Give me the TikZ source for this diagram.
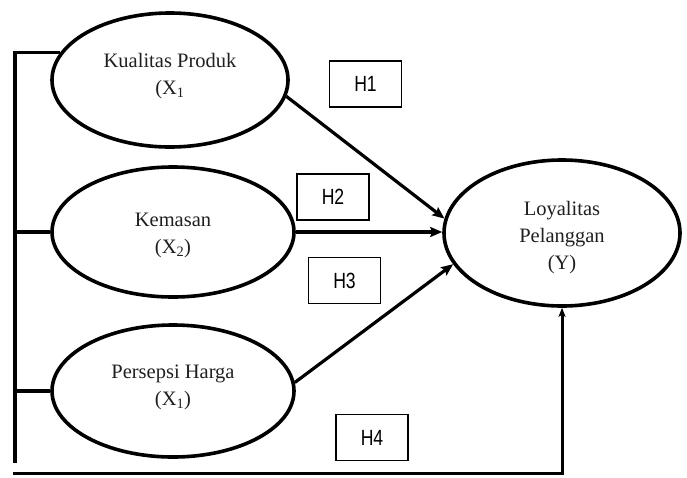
\documentclass[tikz,border=0pt]{standalone}
\usepackage{fontspec}
\setmainfont{Liberation Serif}
\newfontfamily\arialf{Liberation Sans}
\usetikzlibrary{shapes.geometric,arrows.meta}
\tikzset{
  var/.style={ellipse, draw=black, line width=3.6pt, inner sep=0pt},
  vtext/.style={align=center, inner sep=0pt, font=\fontsize{20.5}{27}\selectfont, text=black!88},
  hbox/.style={draw=black, line width=1.2pt, minimum width=72pt, minimum height=46pt,
    inner sep=0pt, font=\arialf\fontsize{22}{24}\selectfont},
  conn/.style={line width=3.2pt},
  arr/.style={line width=3.2pt, -{Stealth[length=12pt,width=10pt,inset=2pt]}},
}
\newcommand{\hlab}[1]{\scalebox{0.8}[1]{#1}}
\begin{document}
\begin{tikzpicture}[x=1pt,y=-1pt]
\useasboundingbox (0,0) rectangle (687,477);
\node[var, minimum width=236pt, minimum height=134pt] (k) at (170,80) {};
\node[var, minimum width=242pt, minimum height=130pt] (x) at (173,232) {};
\node[var, minimum width=242pt, minimum height=132pt] (p) at (173,391) {};
\node[var, minimum width=236pt, minimum height=146pt] (y) at (562,233) {};
\node[vtext] (kt) at (170,76) {Kualitas Produk\\(X\textsubscript{1}};
\node[vtext] (xt) at (173,235) {Kemasan\\(X\textsubscript{2})};
\node[vtext] (pt) at (173,387) {Persepsi Harga\\(X\textsubscript{1})};
\node[vtext] (yt) at (562,238) {Loyalitas\\Pelanggan\\(Y)};
\node[hbox] (h1) at (365.5,84) {\hlab{H1}};
\node[hbox] (h2) at (333,197) {\hlab{H2}};
\node[hbox] (h3) at (344.5,280.5) {\hlab{H3}};
\node[hbox] (h4) at (372,437.5) {\hlab{H4}};
\coordinate (lt) at (15,53);
\coordinate (lb) at (15,463);
\coordinate (bl) at (13,473);
\draw[conn] (k.166) -- (k.166 -| lt) -- (lb);
\draw[conn] (x.west) -- (x.west -| lt);
\draw[conn] (p.west) -- (p.west -| lt);
\draw[arr] (k.-8) -- (y.173);
\draw[arr] (x.east) -- (x.east -| y.west);
\draw[arr] (p.4) -- (y.196);
\draw[line width=3pt, -{Stealth[length=9pt,width=7pt,inset=2pt]}] (bl) -- (bl -| y.south) -- (y.south);
\end{tikzpicture}
\end{document}
